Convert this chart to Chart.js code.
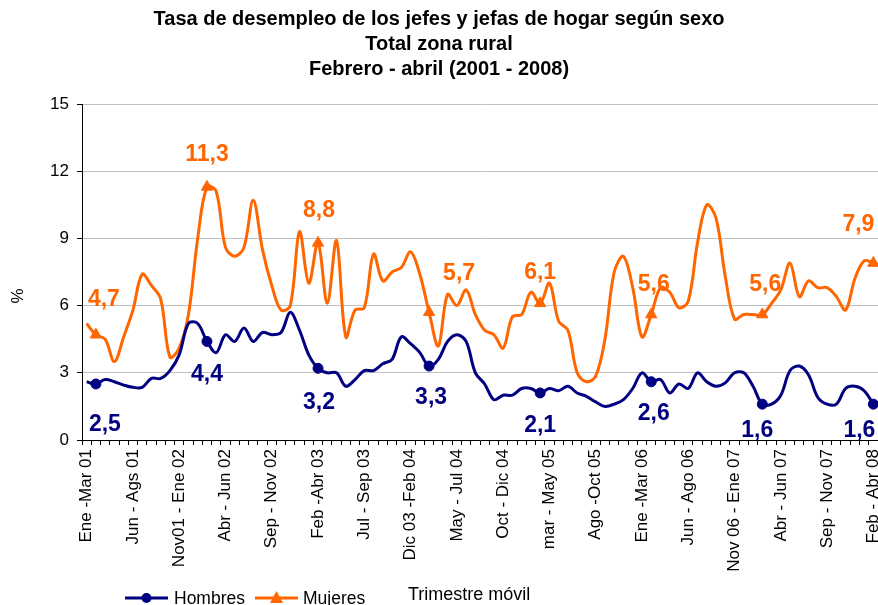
<!DOCTYPE html>
<html><head><meta charset="utf-8">
<script src="https://cdn.jsdelivr.net/npm/chart.js@4.4.1/dist/chart.umd.min.js"></script>
<style>html,body{margin:0;padding:0;background:#fff;overflow:hidden}#wrap{position:relative;width:878px;height:605px}</style>
</head><body><div id="wrap"><canvas id="c" width="878" height="605"></canvas></div>
<script>
const categories = [
"Ene -Mar 01","Feb - Abr 01","Mar - May 01","Abr - Jun 01","May - Jul 01",
"Jun - Ags 01","Jul - Sep 01","Ago - Oct 01","Sep - Nov 01","Oct - Dic 01",
"Nov01 - Ene 02","Dic 01 - Feb 02","Ene - Mar 02","Feb - Abr 02","Mar - May 02",
"Abr - Jun 02","May - Jul 02","Jun - Ago 02","Jul - Sep 02","Ago - Oct 02",
"Sep - Nov 02","Oct - Dic 02","Nov 02 - Ene 03","Dic 02 - Feb 03","Ene - Mar 03",
"Feb -Abr 03","Mar - May 03","Abr - Jun 03","May - Jul 03","Jun - Ago 03",
"Jul - Sep 03","Ago - Oct 03","Sep - Nov 03","Oct - Dic 03","Nov 03 - Ene 04",
"Dic 03 -Feb 04","Ene - Mar 04","Feb - Abr 04","Mar - May 04","Abr - Jun 04",
"May - Jul 04","Jun - Ago 04","Jul - Sep 04","Ago - Oct 04","Sep - Nov 04",
"Oct - Dic 04","Nov 04 - Ene 05","Dic 04 - Feb 05","Ene - Mar 05","Feb - Abr 05",
"mar - May 05","Abr - Jun 05","May - Jul 05","Jun - Ago 05","Jul - Sep 05",
"Ago -Oct 05","Sep - Nov 05","Oct - Dic 05","Nov 05 - Ene 06","Dic 05 - Feb 06",
"Ene -Mar 06","Feb - Abr 06","Mar - May 06","Abr - Jun 06","May - Jul 06",
"Jun - Ago 06","Jul - Sep 06","Ago - Oct 06","Sep - Nov 06","Oct - Dic 06",
"Nov 06 - Ene 07","Dic 06 - Feb 07","Ene - Mar 07","Feb - Abr 07","Mar - May 07",
"Abr - Jun 07","May - Jul 07","Jun - Ago 07","Jul - Sep 07","Ago - Oct 07",
"Sep - Nov 07","Oct - Dic 07","Nov 07 - Ene 08","Dic 07 - Feb 08","Ene - Mar 08",
"Feb - Abr 08"];

const hombres = [
2.6,2.5,2.7,2.6,2.45,2.35,2.35,2.75,2.75,3.1,
3.8,5.2,5.2,4.4,3.9,4.7,4.4,5.0,4.4,4.8,
4.7,4.8,5.7,4.9,3.8,3.2,3.0,3.0,2.4,2.7,
3.1,3.1,3.4,3.6,4.6,4.3,3.9,3.3,3.6,4.4,
4.7,4.4,3.0,2.5,1.8,2.0,2.0,2.3,2.3,2.1,
2.3,2.2,2.4,2.1,1.95,1.7,1.5,1.6,1.8,2.3,
3.0,2.6,2.7,2.1,2.5,2.3,3.0,2.6,2.4,2.55,
3.0,3.0,2.4,1.6,1.6,2.0,3.1,3.3,2.9,1.9,
1.6,1.6,2.3,2.4,2.2,1.6];

const mujeres = [
5.2,4.7,4.5,3.5,4.6,5.8,7.4,6.9,6.3,3.7,
4.1,5.6,9.0,11.3,11.1,8.6,8.2,8.6,10.7,8.5,
6.9,5.8,6.0,9.3,7.0,8.8,6.1,8.9,4.6,5.8,
5.9,8.3,7.1,7.5,7.7,8.4,7.4,5.7,4.2,6.5,
6.0,6.7,5.6,4.9,4.7,4.1,5.5,5.6,6.6,6.1,
7.0,5.3,4.9,3.0,2.6,2.85,4.5,7.5,8.2,6.8,
4.6,5.6,6.8,6.6,5.9,6.2,8.8,10.5,9.9,7.3,
5.4,5.6,5.6,5.6,6.1,6.7,7.9,6.4,7.1,6.8,
6.8,6.4,5.8,7.2,8.0,7.9];

const markerIdx = [1,13,25,37,49,61,73,85];
const yTicks = [0,3,6,9,12,15];
const titleLines = ["Tasa de desempleo de los jefes y jefas de hogar según sexo","Total zona rural","Febrero - abril (2001 - 2008)"];
const seriesNames = ["Hombres","Mujeres"];
const xTitle = "Trimestre móvil";
const yTitle = "%";

const FONT = "'Liberation Sans', Arial, sans-serif";
const NAVY = "#000080", ORANGE = "#FF6600";
const labelOffsets = [
  [[9,41],[0,33],[1,34],[2,32],[0,33],[2.5,32],[-5,26],[-14,26]],
  [[8,-35],[0,-32],[1,-32],[30,-39],[0,-31],[2.5,-30],[3,-30],[-15,-38]]
];

const decor = {
  id:'decor',
  afterDatasetsDraw(chart){
    const ctx = chart.ctx, xs = chart.scales.x, ys = chart.scales.y;
    ctx.save();
    ctx.font = "bold 23px " + FONT;
    ctx.textAlign = 'center'; ctx.textBaseline = 'middle';
    chart.data.datasets.forEach((ds, di) => {
      ctx.fillStyle = ds.borderColor;
      markerIdx.forEach((idx, k) => {
        const v = ds.data[idx];
        const x = xs.getPixelForValue(idx) + labelOffsets[di][k][0];
        const y = ys.getPixelForValue(v) + labelOffsets[di][k][1];
        ctx.fillText(v.toFixed(1).replace('.', ','), x, y);
      });
    });
    ctx.restore();
  },
  afterDraw(chart){
    const ctx = chart.ctx;
    ctx.save();
    ctx.fillStyle = '#000';
    ctx.font = "17px " + FONT;
    ctx.translate(18, 296); ctx.rotate(-Math.PI/2);
    ctx.textAlign = 'center'; ctx.textBaseline = 'middle';
    ctx.fillText(yTitle, 0, 0);
    ctx.setTransform(1,0,0,1,0,0);
    const items = [{x0:125, x1:168, tx:174}, {x0:255, x1:298, tx:303}];
    chart.data.datasets.forEach((ds, i) => {
      const it = items[i], ly = 598;
      ctx.strokeStyle = ds.borderColor; ctx.lineWidth = 3;
      ctx.beginPath(); ctx.moveTo(it.x0, ly); ctx.lineTo(it.x1, ly); ctx.stroke();
      const cx = (it.x0 + it.x1)/2;
      ctx.fillStyle = ds.borderColor;
      ctx.beginPath();
      if (i === 0) { ctx.arc(cx, ly, 5, 0, Math.PI*2); }
      else { ctx.moveTo(cx, ly-7); ctx.lineTo(cx+6.5, ly+5); ctx.lineTo(cx-6.5, ly+5); ctx.closePath(); }
      ctx.fill();
      ctx.fillStyle = '#000';
      ctx.font = "17.5px " + FONT;
      ctx.textAlign = 'left'; ctx.textBaseline = 'alphabetic';
      ctx.fillText(ds.label, it.tx, 604);
    });
    ctx.font = "18px " + FONT;
    ctx.fillText(xTitle, 408, 600);
    ctx.restore();
  }
};

const mk = (i, r) => markerIdx.includes(i) ? r : 0;

new Chart(document.getElementById('c'), {
  type: 'line',
  data: {
    labels: categories,
    datasets: [
      { label: seriesNames[0], data: hombres, borderColor: NAVY, backgroundColor: NAVY,
        borderWidth: 3, tension: 0.35, fill: false, pointStyle: 'circle',
        pointRadius: c => mk(c.dataIndex, 5), pointHoverRadius: 0,
        pointBackgroundColor: NAVY, pointBorderColor: NAVY, pointBorderWidth: 1 },
      { label: seriesNames[1], data: mujeres, borderColor: ORANGE, backgroundColor: ORANGE,
        borderWidth: 3, tension: 0.35, fill: false, pointStyle: 'triangle',
        pointRadius: c => mk(c.dataIndex, 6.5), pointHoverRadius: 0,
        pointBackgroundColor: ORANGE, pointBorderColor: ORANGE, pointBorderWidth: 1 }
    ]
  },
  plugins: [decor],
  options: {
    responsive: false, animation: false, devicePixelRatio: 1,
    layout: { autoPadding: false, padding: { left: 0, top: 0, bottom: 0, right: 0 } },
    events: [],
    plugins: {
      legend: { display: false }, tooltip: { enabled: false },
      title: { display: true, text: titleLines, color: '#000',
        font: { family: FONT, size: 20, weight: 'bold', lineHeight: 1.25 },
        padding: { top: 6.5, bottom: 22.5 } }
    },
    scales: {
      x: {
        type: 'category', offset: true,
        grid: { offset: true, drawOnChartArea: false, drawTicks: true, tickLength: 5, color: '#000', tickColor: '#000' },
        border: { color: '#000', width: 1 },
        ticks: { autoSkip: false, minRotation: 90, maxRotation: 90, padding: 4, color: '#000',
          font: { family: FONT, size: 17 },
          callback: (v, i) => (i % 5 === 0 ? categories[i] : '') },
        afterFit(s) { s.height = 165; s.paddingLeft = 0; s.paddingRight = 0; }
      },
      y: {
        min: 0, max: 15,
        afterBuildTicks(s) { s.ticks = yTicks.map(v => ({ value: v })); },
        ticks: { color: '#000', padding: 8, font: { family: FONT, size: 17 } },
        grid: { color: '#c0c0c0', tickColor: '#000', tickLength: 5 },
        border: { color: '#000', width: 1 },
        afterFit(s) { s.width = 82; s.paddingTop = 0; s.paddingBottom = 0; }
      }
    }
  }
});
</script></body></html>
